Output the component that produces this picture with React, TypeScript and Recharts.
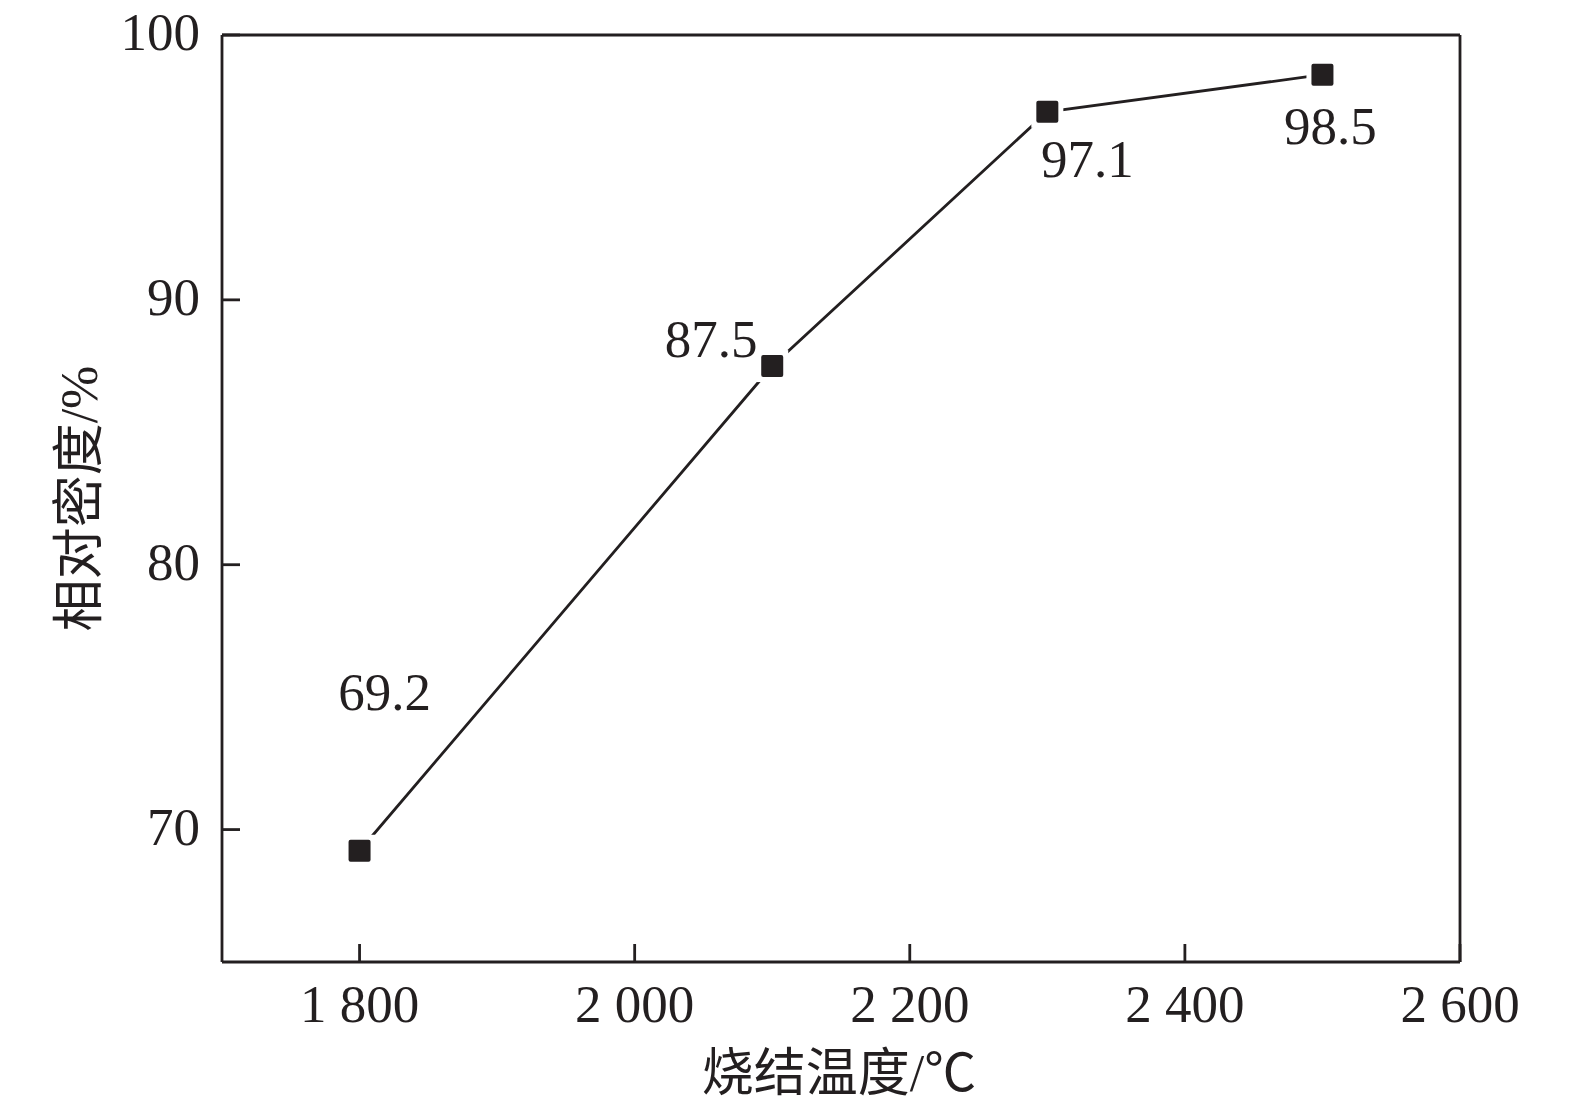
import React from 'react';
import { LineChart, Line, XAxis, YAxis, LabelList, ReferenceLine } from 'recharts';

// 烧结温度 (℃) 与相对密度 (%)
const temperatures = [1800, 2100, 2300, 2500];
const densities = [69.2, 87.5, 97.1, 98.5];
const xTicks = [1800, 2000, 2200, 2400, 2600];
const yTicks = [70, 80, 90, 100];
const xDomain = [1700, 2600];
const yDomain = [65, 100];

const data = temperatures.map((t, i) => ({ t, d: densities[i] }));

const INK = '#231f20';
const FONT = "'Liberation Serif', 'Times New Roman', 'Noto Sans CJK SC', serif";
const TICK_LEN = 18;

// label placement around each point (dx, dy)
const labelShift = [
  [25, -159],
  [-61, -27],
  [40, 47],
  [8, 51],
];

const fmtThousands = (v: number) => {
  const s = String(v);
  return s.length > 3 ? s.slice(0, s.length - 3) + ' ' + s.slice(-3) : s;
};

const SquareDot = (props: any) => {
  const { cx, cy } = props;
  if (cx == null || cy == null) return null;
  return (
    <g>
      <rect x={cx - 16} y={cy - 16} width={32} height={32} fill="#fff" />
      <rect x={cx - 11} y={cy - 11} width={22} height={22} rx={2} fill={INK} />
    </g>
  );
};

const PointLabel = (props: any) => {
  const { x, y, index, value } = props;
  const [dx, dy] = labelShift[index] || [0, 0];
  return (
    <text
      x={x + dx}
      y={y + dy}
      textAnchor="middle"
      dominantBaseline="central"
      fontFamily={FONT}
      fontSize={53}
      fill={INK}
    >
      {value}
    </text>
  );
};

// ticks point into the plot, labels sit outside
const BottomTick = (props: any) => {
  const { x, y, payload } = props;
  return (
    <g>
      <line x1={x} y1={y} x2={x} y2={y - TICK_LEN} stroke={INK} strokeWidth={2.8} />
      <text
        x={x}
        y={y + 22}
        dy="0.71em"
        textAnchor="middle"
        fontFamily={FONT}
        fontSize={53}
        fill={INK}
      >
        {fmtThousands(payload.value)}
      </text>
    </g>
  );
};

const LeftTick = (props: any) => {
  const { x, y, payload } = props;
  return (
    <g>
      <line x1={x} y1={y} x2={x + TICK_LEN} y2={y} stroke={INK} strokeWidth={2.8} />
      <text
        x={x - 22}
        y={y}
        dy="0.29em"
        textAnchor="end"
        fontFamily={FONT}
        fontSize={53}
        fill={INK}
      >
        {payload.value}
      </text>
    </g>
  );
};

export default function App() {
  return (
    <>
      <style>{`html, body { margin: 0; padding: 0; background: #fff; overflow: hidden; }`}</style>
      <div style={{ width: 1575, height: 1116, overflow: 'hidden', background: '#fff' }}>
        <LineChart
          width={1575}
          height={1116}
          data={data}
          margin={{ top: 35, right: 115, bottom: 0, left: 0 }}
        >
          <XAxis
            dataKey="t"
            type="number"
            domain={xDomain}
            ticks={xTicks}
            height={154}
            tickSize={0}
            tickMargin={0}
            tick={<BottomTick />}
            tickLine={false}
            axisLine={{ stroke: INK, strokeWidth: 2.8 }}
            allowDataOverflow
            label={{
              content: ({ viewBox }: any) => (
                <text
                  x={viewBox.x + viewBox.width / 2 - 2}
                  y={viewBox.y + 111}
                  textAnchor="middle"
                  dominantBaseline="central"
                  fontFamily={FONT}
                  fontSize={52}
                  fill={INK}
                >
                  烧结温度/℃
                </text>
              ),
            }}
          />
          <YAxis
            type="number"
            domain={yDomain}
            ticks={yTicks}
            width={222}
            tickSize={0}
            tickMargin={0}
            tick={<LeftTick />}
            tickLine={false}
            axisLine={{ stroke: INK, strokeWidth: 2.8 }}
            allowDataOverflow
            label={{
              content: ({ viewBox }: any) => {
                const cx = viewBox.x + 79;
                const cy = viewBox.y + viewBox.height / 2;
                return (
                  <text
                    x={cx}
                    y={cy}
                    textAnchor="middle"
                    dominantBaseline="central"
                    transform={`rotate(-90 ${cx} ${cy})`}
                    fontFamily={FONT}
                    fontSize={52}
                    fill={INK}
                  >
                    相对密度/%
                  </text>
                );
              },
            }}
          />
          {/* frame: top and right edges */}
          <ReferenceLine y={yDomain[1]} stroke={INK} strokeWidth={2.8} />
          <ReferenceLine x={xDomain[1]} stroke={INK} strokeWidth={2.8} />
          <Line
            type="linear"
            dataKey="d"
            stroke={INK}
            strokeWidth={2.8}
            dot={<SquareDot />}
            activeDot={false}
            isAnimationActive={false}
          >
            <LabelList dataKey="d" content={<PointLabel />} />
          </Line>
        </LineChart>
      </div>
    </>
  );
}
